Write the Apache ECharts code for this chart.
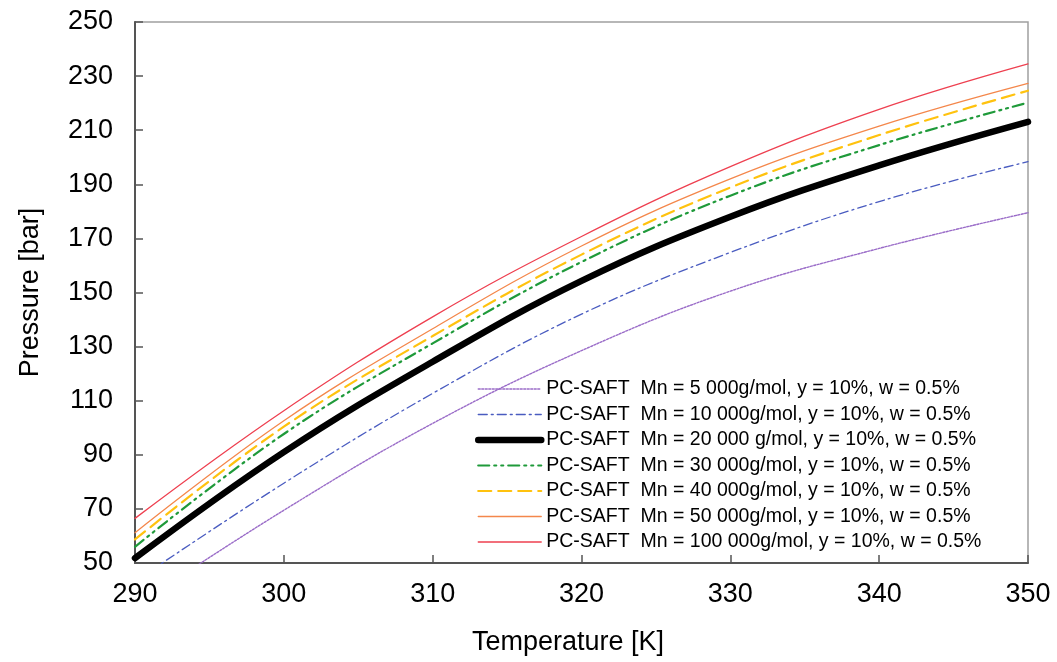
<!DOCTYPE html>
<html>
<head>
<meta charset="utf-8">
<script src="https://cdn.jsdelivr.net/npm/echarts@6/dist/echarts.min.js"></script>
<style>
html,body{margin:0;padding:0;background:#fff;}
#chart{width:1057px;height:662px;}
</style>
</head>
<body>
<div id="chart"></div>
<script>
const temperature = [290, 300, 310, 320, 330, 340, 350];
const yTicks = [50, 70, 90, 110, 130, 150, 170, 190, 210, 230, 250];
const seriesNames = [
  'PC-SAFT  Mn = 5 000g/mol, y = 10%, w = 0.5%',
  'PC-SAFT  Mn = 10 000g/mol, y = 10%, w = 0.5%',
  'PC-SAFT  Mn = 20 000 g/mol, y = 10%, w = 0.5%',
  'PC-SAFT  Mn = 30 000g/mol, y = 10%, w = 0.5%',
  'PC-SAFT  Mn = 40 000g/mol, y = 10%, w = 0.5%',
  'PC-SAFT  Mn = 50 000g/mol, y = 10%, w = 0.5%',
  'PC-SAFT  Mn = 100 000g/mol, y = 10%, w = 0.5%'
];
const mn5000   = [34.0, 69.5, 101.6, 128.5, 150.5, 166.3, 179.5];
const mn10000  = [43.2, 79.5, 112.7, 142.0, 164.8, 183.6, 198.4];
const mn20000  = [51.8, 91.0, 124.4, 154.3, 178.0, 197.0, 213.1];
const mn30000  = [56.0, 97.7, 131.2, 161.3, 185.8, 204.5, 220.2];
const mn40000  = [58.7, 100.4, 133.9, 164.0, 188.8, 208.2, 224.6];
const mn50000  = [61.2, 102.6, 136.6, 167.2, 192.0, 211.5, 227.3];
const mn100000 = [66.5, 106.3, 141.0, 170.7, 196.5, 217.7, 234.5];

const seriesValues = [mn5000, mn10000, mn20000, mn30000, mn40000, mn50000, mn100000];
const styles = [
  {color:'#9a6cc8', width:1.4, type:[2,1.5]},
  {color:'#4a5cc0', width:1.3, type:[9,4,2,4]},
  {color:'#000000', width:6.5, type:'solid'},
  {color:'#1f9a3a', width:2.2, type:[11,5,2,5,2,5]},
  {color:'#ffc20e', width:2.2, type:[13,7]},
  {color:'#f4874b', width:1.3, type:'solid'},
  {color:'#ee4050', width:1.3, type:'solid'}
];
const FONT = "'Liberation Sans', Arial, sans-serif";

const series = seriesValues.map((vals, i) => ({
  name: seriesNames[i],
  type: 'line',
  data: temperature.map((t, j) => [t, vals[j]]),
  smooth: 0.4,
  symbol: 'none',
  showSymbol: false,
  clip: true,
  z: i === 2 ? 3 : 2,
  color: styles[i].color,
  lineStyle: {color: styles[i].color, width: styles[i].width, type: styles[i].type, cap: 'round'}
}));

const legendData = seriesNames.map((n, i) => ({
  name: n,
  itemStyle: {opacity: 0, borderWidth: 0},
  lineStyle: {color: styles[i].color, width: styles[i].width, type: styles[i].type, cap: 'round'}
}));

const chart = echarts.init(document.getElementById('chart'), null, {renderer:'canvas'});
chart.setOption({
  animation: false,
  backgroundColor: '#ffffff',
  textStyle: {fontFamily: FONT},
  grid: {left:135, top:22, right:29, bottom:99, show:true, borderColor:'#a0a0a0', borderWidth:1.5, backgroundColor:'transparent'},
  legend: {
    orient: 'vertical',
    left: 475, top: 379,
    padding: 0,
    itemWidth: 63, itemHeight: 14, itemGap: 5.5,
    data: legendData,
    itemStyle: {opacity: 0, borderWidth: 0},
    textStyle: {fontSize: 19.5, color:'#000', fontFamily: FONT, lineHeight: 20}
  },
  xAxis: {
    type: 'value', min: 290, max: 350, interval: 10,
    name: 'Temperature [K]', nameLocation: 'middle', nameGap: 66,
    nameTextStyle: {fontSize: 27, color:'#000', fontFamily: FONT, padding:[0,27,0,0]},
    axisLine: {show:true, onZero:false, lineStyle:{color:'#555', width:2}},
    axisTick: {show:true, inside:true, length:8, lineStyle:{color:'#555', width:1.5}},
    axisLabel: {fontSize: 27, color:'#000', margin: 18, fontFamily: FONT},
    splitLine: {show:false}
  },
  yAxis: {
    type: 'value', min: yTicks[0], max: yTicks[yTicks.length-1], interval: yTicks[1]-yTicks[0],
    name: 'Pressure [bar]', nameLocation: 'middle', nameGap: 91, nameRotate: 90,
    nameTextStyle: {fontSize: 27, color:'#000', fontFamily: FONT},
    axisLine: {show:true, onZero:false, lineStyle:{color:'#555', width:2}},
    axisTick: {show:true, inside:true, length:8, lineStyle:{color:'#555', width:1.5}},
    axisLabel: {fontSize: 27, color:'#000', margin: 22, fontFamily: FONT},
    splitLine: {show:false}
  },
  series: series
});
</script>
</body>
</html>
